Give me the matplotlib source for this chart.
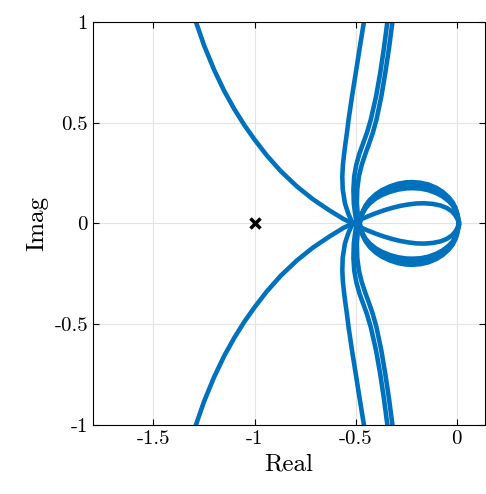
import numpy as np
import matplotlib
matplotlib.use("Agg")
import matplotlib.pyplot as plt

plt.rcParams['font.family'] = ['cmr10', 'DejaVu Serif']
plt.rcParams['axes.unicode_minus'] = False

blue = '#0072BD'

# half-curves (the other half is the complex conjugate)
# big curve: low-frequency branch, then inner loop
big_x = [-1.29, -1.25, -1.20, -1.15, -1.10, -1.05, -1.00, -0.94, -0.87, -0.79,
         -0.71, -0.63, -0.56, -0.525,
         -0.50, -0.47, -0.44, -0.40, -0.36, -0.32, -0.28, -0.24, -0.20, -0.16, -0.12,
         -0.08, -0.05, -0.025, -0.008, 0.004, 0.01]
big_y = [1.00, 0.884, 0.762, 0.657, 0.567, 0.487, 0.416, 0.338, 0.259, 0.183,
         0.119, 0.065, 0.022, 0.005,
         -0.008, -0.022, -0.035, -0.051, -0.065, -0.077, -0.087, -0.094, -0.099, -0.10, -0.097,
         -0.089, -0.077, -0.061, -0.042, -0.022, 0.0]

# vertical branches
vert_y = [1.0, 0.87, 0.743, 0.63, 0.515, 0.45, 0.40, 0.345, 0.29, 0.233, 0.17, 0.10, 0.05, 0.0]
b_x = [-0.459, -0.48, -0.50, -0.518, -0.535, -0.543, -0.55, -0.557, -0.563, -0.566, -0.564,
       -0.553, -0.537, -0.515]
c_x = [-0.343, -0.36, -0.379, -0.399, -0.425, -0.444, -0.462, -0.482, -0.497, -0.507, -0.511,
       -0.509, -0.503, -0.495]
d_x = [-0.318, -0.335, -0.354, -0.373, -0.397, -0.415, -0.432, -0.452, -0.470, -0.484, -0.492,
       -0.494, -0.49, -0.485]

# outer loops
loop_x = [-0.48, -0.475, -0.465, -0.45, -0.43, -0.40, -0.37, -0.33, -0.29, -0.25, -0.22,
          -0.18, -0.14, -0.10, -0.07, -0.04, -0.02, -0.005, 0.005, 0.01]
loop1_y = [0.0, -0.03, -0.06, -0.09, -0.117, -0.145, -0.165, -0.184, -0.197, -0.204, -0.205,
           -0.202, -0.193, -0.176, -0.157, -0.13, -0.105, -0.075, -0.04, 0.0]
loop2_y = [0.0, -0.028, -0.056, -0.083, -0.108, -0.134, -0.153, -0.171, -0.183, -0.189, -0.19,
           -0.187, -0.179, -0.163, -0.146, -0.121, -0.097, -0.07, -0.037, 0.0]
loop3_y = [0.0, -0.026, -0.051, -0.077, -0.1, -0.124, -0.141, -0.157, -0.168, -0.174, -0.175,
           -0.173, -0.165, -0.15, -0.134, -0.111, -0.09, -0.064, -0.034, 0.0]

fig = plt.figure(figsize=(4.86, 4.94), dpi=100)
ax = fig.add_axes([0.191, 0.1397, 0.807, 0.816])

def nyq(xs, ys):
    xs = np.array(xs)
    ys = np.array(ys)
    ax.plot(xs, ys, color=blue, lw=3.3, solid_joinstyle='round')
    ax.plot(xs, -ys, color=blue, lw=3.3, solid_joinstyle='round')

nyq(big_x, big_y)
nyq(b_x + loop_x, vert_y + loop1_y)
nyq(c_x + loop_x, vert_y + loop2_y)
nyq(d_x + loop_x, vert_y + loop3_y)

ax.plot(-1, 0, 'x', color='k', markersize=7, mew=2.5)

ax.set_xlim(-1.8, 0.14)
ax.set_ylim(-1, 1)
ax.set_xticks([-1.5, -1, -0.5, 0])
ax.set_xticklabels(['-1.5', '-1', '-0.5', '0'])
ax.set_yticks([-1, -0.5, 0, 0.5, 1])
ax.set_yticklabels(['-1', '-0.5', '0', '0.5', '1'])
ax.tick_params(direction='in', top=True, right=True, labelsize=15, length=4)
ax.grid(True, color='#e3e3e3', lw=0.8)
ax.set_axisbelow(True)
ax.set_xlabel('Real', fontsize=18)
ax.set_ylabel('Imag', fontsize=18)

fig.savefig('out.png', dpi=100)
